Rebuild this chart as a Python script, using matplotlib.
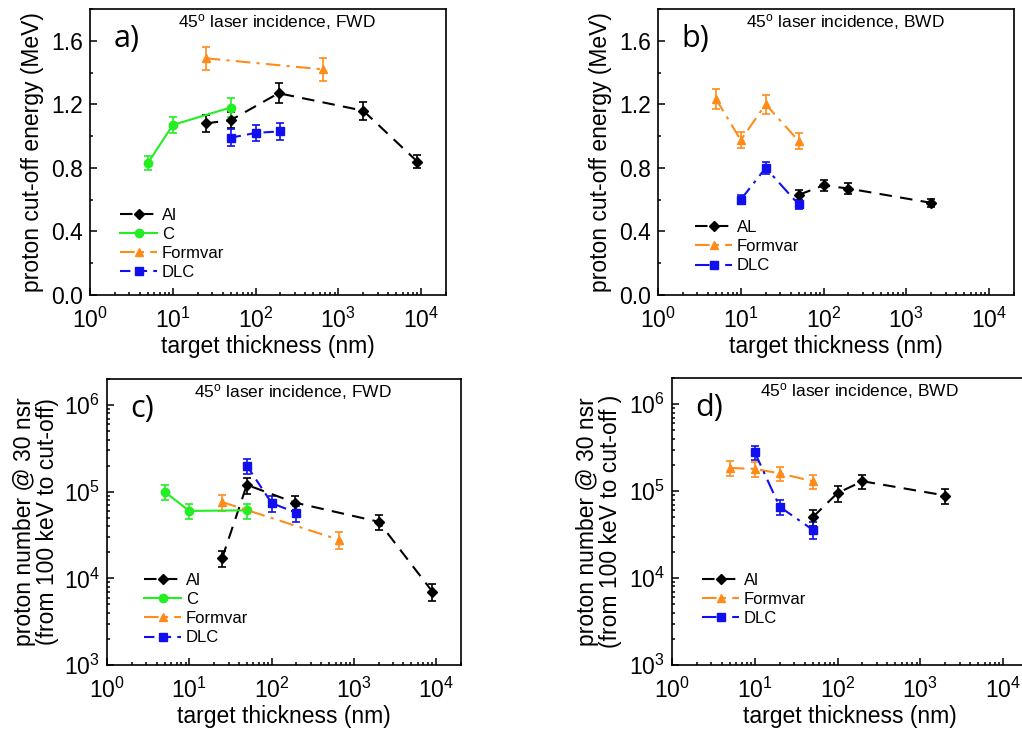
import matplotlib
matplotlib.use('Agg')
import matplotlib.pyplot as plt
from matplotlib.ticker import AutoMinorLocator, LogLocator, NullFormatter

plt.rcParams['font.family'] = ['Liberation Sans', 'DejaVu Sans']
plt.rcParams['mathtext.fontset'] = 'custom'
plt.rcParams['mathtext.rm'] = 'Liberation Sans'
plt.rcParams['mathtext.it'] = 'Liberation Sans:italic'
plt.rcParams['mathtext.bf'] = 'Liberation Sans:bold'

# colours per material
colors = {'Al': 'black', 'C': '#22ee22', 'Formvar': '#ff8c1a', 'DLC': '#1010ee'}
markers = {'Al': 'D', 'C': 'o', 'Formvar': '^', 'DLC': 's'}

# ---- a) cut-off energy, FWD ----
a_al_x = [25, 50, 190, 2000, 9000]
a_al_y = [1.08, 1.10, 1.27, 1.16, 0.84]
a_al_e = [0.055, 0.05, 0.063, 0.056, 0.042]
a_c_x = [5, 10, 50]
a_c_y = [0.83, 1.07, 1.18]
a_c_e = [0.042, 0.052, 0.057]
a_fv_x = [25, 650]
a_fv_y = [1.49, 1.42]
a_fv_e = [0.073, 0.073]
a_dlc_x = [50, 100, 200]
a_dlc_y = [0.99, 1.02, 1.03]
a_dlc_e = [0.052, 0.05, 0.052]

# ---- b) cut-off energy, BWD ----
b_al_x = [50, 100, 200, 2000]
b_al_y = [0.63, 0.69, 0.67, 0.58]
b_al_e = [0.031, 0.033, 0.033, 0.025]
b_fv_x = [5, 10, 20, 50]
b_fv_y = [1.235, 0.975, 1.20, 0.97]
b_fv_e = [0.063, 0.05, 0.06, 0.05]
b_dlc_x = [10, 20, 50]
b_dlc_y = [0.60, 0.80, 0.57]
b_dlc_e = [0.028, 0.04, 0.03]

# ---- c) proton number, FWD ----
c_al_x = [25, 50, 190, 2000, 9000]
c_al_y = [1.7e4, 1.2e5, 7.5e4, 4.5e4, 7.0e3]
c_al_e = [3.5e3, 2.5e4, 1.5e4, 9.0e3, 1.5e3]
c_c_x = [5, 10, 50]
c_c_y = [1.0e5, 6.0e4, 6.1e4]
c_c_e = [2.0e4, 1.2e4, 1.2e4]
c_fv_x = [25, 650]
c_fv_y = [7.6e4, 2.8e4]
c_fv_e = [1.6e4, 6.0e3]
c_dlc_x = [50, 100, 200]
c_dlc_y = [2.0e5, 7.4e4, 5.7e4]
c_dlc_e = [4.0e4, 1.5e4, 1.2e4]

# ---- d) proton number, BWD ----
d_al_x = [50, 100, 200, 2000]
d_al_y = [5.0e4, 9.5e4, 1.3e5, 8.9e4]
d_al_e = [1.0e4, 2.0e4, 2.5e4, 1.8e4]
d_fv_x = [5, 10, 20, 50]
d_fv_y = [1.85e5, 1.8e5, 1.6e5, 1.3e5]
d_fv_e = [3.5e4, 3.5e4, 3.0e4, 2.5e4]
d_dlc_x = [10, 20, 50]
d_dlc_y = [2.8e5, 6.6e4, 3.6e4]
d_dlc_e = [5.0e4, 1.3e4, 8.0e3]

W, H = 1022, 733
fig = plt.figure(figsize=(W / 100, H / 100), dpi=100)


# Axes from pixel box (left, top, right, bottom)
def add_axes_px(l, t, r, b):
    return fig.add_axes([l / W, (H - b) / H, (r - l) / W, (b - t) / H])


# draw one material with error bars, return the data line for the legend
def series(ax, x, y, e, name, ls):
    eb = ax.errorbar(x, y, yerr=e, color=colors[name], marker=markers[name], ls=ls,
                     lw=1.5, ms=6 if name != 'Al' else 5, capsize=3, elinewidth=1.2,
                     capthick=1.2)
    return eb[0]


def style(ax, letter, title, logy=False):
    ax.set_xscale('log')
    ax.set_xlim(1, 2e4)
    ax.xaxis.set_major_locator(LogLocator(base=10, numticks=10))
    ax.xaxis.set_minor_locator(LogLocator(base=10, subs=range(2, 10), numticks=20))
    ax.xaxis.set_minor_formatter(NullFormatter())
    if logy:
        ax.set_yscale('log')
        ax.set_ylim(1e3, 2e6)
        ax.yaxis.set_major_locator(LogLocator(base=10, numticks=10))
        ax.yaxis.set_minor_locator(LogLocator(base=10, subs=range(2, 10), numticks=20))
        ax.yaxis.set_minor_formatter(NullFormatter())
    else:
        ax.set_ylim(0, 1.8)
        ax.set_yticks([0.0, 0.4, 0.8, 1.2, 1.6])
        ax.yaxis.set_minor_locator(AutoMinorLocator(2))
    ax.tick_params(which='both', direction='in', labelsize=16.5, width=1.1)
    ax.tick_params(which='major', length=5, pad=5)
    ax.tick_params(which='minor', length=2.5)
    ax.tick_params(axis='x', which='major', pad=9)
    for s in ax.spines.values():
        s.set_linewidth(1.2)
    ax.text(0.525, 0.955, title, transform=ax.transAxes, ha='center', va='center', fontsize=12.5)
    ax.text(0.065, 0.895, letter, transform=ax.transAxes, ha='left', va='center',
            fontsize=22, family=['Open Sans', 'DejaVu Sans'])
    ax.set_xlabel('target thickness (nm)', fontsize=16.5)
    ax.xaxis.set_label_coords(0.5, -0.14)


def legend(ax, handles, labels, x, y):
    ax.legend(handles, labels, loc='upper left', bbox_to_anchor=(x, y), frameon=False,
              fontsize=12, handlelength=2.2, handletextpad=0.3, labelspacing=0.25,
              borderpad=0, borderaxespad=0)


fwd = '45$^{\\rm o}$ laser incidence, FWD'
bwd = '45$^{\\rm o}$ laser incidence, BWD'
dash_al = (0, (6, 4))
dash_dlc = (0, (5, 3))
dashdot = (0, (7, 3, 1.5, 3))

# a)
ax = add_axes_px(90, 9, 446, 295)
h = [series(ax, a_al_x, a_al_y, a_al_e, 'Al', dash_al),
     series(ax, a_c_x, a_c_y, a_c_e, 'C', '-'),
     series(ax, a_fv_x, a_fv_y, a_fv_e, 'Formvar', dashdot),
     series(ax, a_dlc_x, a_dlc_y, a_dlc_e, 'DLC', dash_dlc)]
style(ax, 'a)', fwd)
ax.set_ylabel('proton cut-off energy (MeV)', fontsize=16.5)
ax.yaxis.set_label_coords(-0.13, 0.5)
legend(ax, h, ['Al', 'C', 'Formvar', 'DLC'], 0.085, 0.305)

# b)
ax = add_axes_px(658, 9, 1014, 295)
h = [series(ax, b_al_x, b_al_y, b_al_e, 'Al', dash_al),
     series(ax, b_fv_x, b_fv_y, b_fv_e, 'Formvar', dashdot),
     series(ax, b_dlc_x, b_dlc_y, b_dlc_e, 'DLC', dashdot)]
style(ax, 'b)', bwd)
ax.set_ylabel('proton cut-off energy (MeV)', fontsize=16.5)
ax.yaxis.set_label_coords(-0.13, 0.5)
legend(ax, h, ['AL', 'Formvar', 'DLC'], 0.105, 0.262)

# c)
ax = add_axes_px(107, 379, 461, 665)
h = [series(ax, c_al_x, c_al_y, c_al_e, 'Al', dash_al),
     series(ax, c_c_x, c_c_y, c_c_e, 'C', '-'),
     series(ax, c_fv_x, c_fv_y, c_fv_e, 'Formvar', dashdot),
     series(ax, c_dlc_x, c_dlc_y, c_dlc_e, 'DLC', dash_dlc)]
style(ax, 'c)', fwd, logy=True)
ax.set_ylabel('proton number @ 30 nsr\n(from 100 keV to cut-off)', fontsize=16.5, linespacing=1.0)
ax.yaxis.set_label_coords(-0.135, 0.5)
legend(ax, h, ['Al', 'C', 'Formvar', 'DLC'], 0.105, 0.322)

# d)
ax = add_axes_px(672, 378, 1028, 665)
h = [series(ax, d_al_x, d_al_y, d_al_e, 'Al', dash_al),
     series(ax, d_fv_x, d_fv_y, d_fv_e, 'Formvar', dashdot),
     series(ax, d_dlc_x, d_dlc_y, d_dlc_e, 'DLC', dashdot)]
style(ax, 'd)', bwd, logy=True)
ax.set_ylabel('proton number @ 30 nsr\n(from 100 keV to cut-off )', fontsize=16.5, linespacing=1.0)
ax.yaxis.set_label_coords(-0.14, 0.5)
legend(ax, h, ['Al', 'Formvar', 'DLC'], 0.085, 0.322)

fig.savefig('out.png', dpi=100)
